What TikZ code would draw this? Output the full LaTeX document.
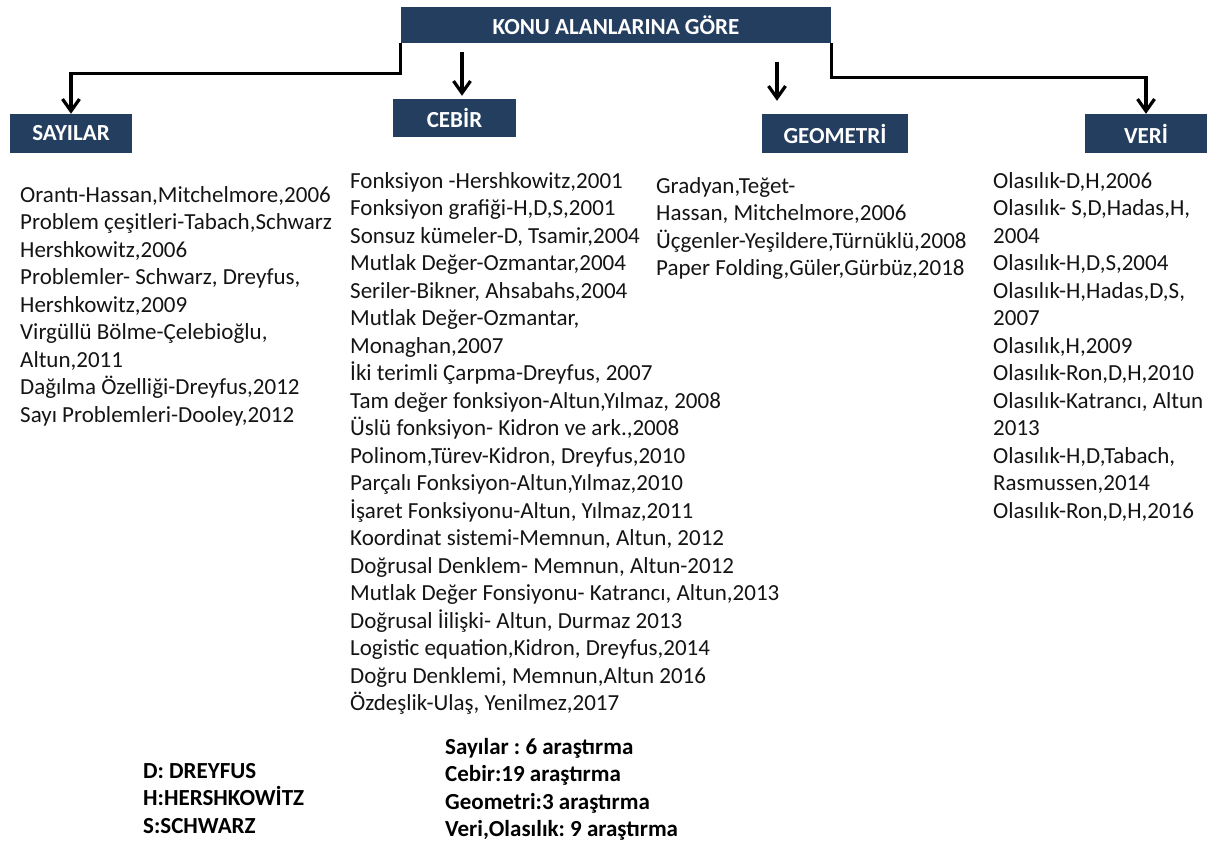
\documentclass[tikz,border=0pt]{standalone}
\usepackage{fontspec}
\setmainfont{Carlito}
\usetikzlibrary{arrows.meta}
\definecolor{navy}{RGB}{36,62,95}
\newcommand{\rl}[1]{\hbox{#1}}
\newcommand{\colblock}[1]{\vtop{\frenchspacing\baselineskip=27.5pt\lineskiplimit=-60pt #1}}
\begin{document}
\frenchspacing
\begin{tikzpicture}[x=1pt,y=-1pt,
  catbox/.style={fill=navy, text=white, font=\bfseries\fontsize{23}{27.5}\selectfont, inner sep=0pt},
  body/.style={anchor=base west, inner sep=0pt, text=black!92, font=\fontsize{23}{27.5}\selectfont},
  boldbody/.style={anchor=base west, inner sep=0pt, text=black, font=\bfseries\fontsize{23}{27.5}\selectfont},
  conn/.style={line width=3.2pt, -{Straight Barb[length=12pt,width=17pt]}}]
\useasboundingbox (0,0) rectangle (1226,843);

% header boxes
\node[catbox, minimum width=430, minimum height=36] (konu) at (616,25) {KONU ALANLARINA GÖRE};
\node[catbox, minimum width=122, minimum height=39] (sayilar) at (71,133.5) {SAYILAR};
\node[catbox, minimum width=123, minimum height=38] (cebir) at (454.5,118) {CEBİR};
\node[catbox, minimum width=146, minimum height=39] (geometri) at (835,133.5) {GEOMETRİ};
\node[catbox, minimum width=122, minimum height=39] (veri) at (1146,133.5) {VERİ};

% connectors
\draw[conn] (konu.south west) -- ++(0,30) -| (sayilar.north);
\draw[conn] (konu.south east) -- ++(0,34) -| (veri.north);
\coordinate (cA) at (462,52);
\draw[conn, shorten >=3pt] (cA) -- (cA |- cebir.north);
\coordinate (gA) at (777,62);
\draw[conn, shorten >=13pt] (gA) -- (gA |- geometri.north);

% lists
\node[body] (sayilist) at (20,202) {\colblock{%
\rl{Orantı-Hassan,Mitchelmore,2006}
\rl{Problem çeşitleri-Tabach,Schwarz}
\rl{Hershkowitz,2006}
\rl{Problemler- Schwarz, Dreyfus,}
\rl{Hershkowitz,2009}
\rl{Virgüllü Bölme-Çelebioğlu,}
\rl{Altun,2011}
\rl{Dağılma Özelliği-Dreyfus,2012}
\rl{Sayı Problemleri-Dooley,2012}}};

\node[body] (cebirlist) at (350,188) {\colblock{%
\rl{Fonksiyon -Hershkowitz,2001}
\rl{Fonksiyon grafiği-H,D,S,2001}
\rl{Sonsuz kümeler-D, Tsamir,2004}
\rl{Mutlak Değer-Ozmantar,2004}
\rl{Seriler-Bikner, Ahsabahs,2004}
\rl{Mutlak Değer-Ozmantar,}
\rl{Monaghan,2007}
\rl{İki terimli Çarpma-Dreyfus, 2007}
\rl{Tam değer fonksiyon-Altun,Yılmaz, 2008}
\rl{Üslü fonksiyon- Kidron ve ark.,2008}
\rl{Polinom,Türev-Kidron, Dreyfus,2010}
\rl{Parçalı Fonksiyon-Altun,Yılmaz,2010}
\rl{İşaret Fonksiyonu-Altun, Yılmaz,2011}
\rl{Koordinat sistemi-Memnun, Altun, 2012}
\rl{Doğrusal Denklem- Memnun, Altun-2012}
\rl{Mutlak Değer Fonsiyonu- Katrancı, Altun,2013}
\rl{Doğrusal İilişki- Altun, Durmaz 2013}
\rl{Logistic equation,Kidron, Dreyfus,2014}
\rl{Doğru Denklemi, Memnun,Altun 2016}
\rl{Özdeşlik-Ulaş, Yenilmez,2017}}};

\node[body] (geolist) at (656,193) {\colblock{%
\rl{Gradyan,Teğet-}
\rl{Hassan, Mitchelmore,2006}
\rl{Üçgenler-Yeşildere,Türnüklü,2008}
\rl{Paper Folding,Güler,Gürbüz,2018}}};

\node[body] (verilist) at (993,188) {\colblock{%
\rl{Olasılık-D,H,2006}
\rl{Olasılık- S,D,Hadas,H,}
\rl{2004}
\rl{Olasılık-H,D,S,2004}
\rl{Olasılık-H,Hadas,D,S,}
\rl{2007}
\rl{Olasılık,H,2009}
\rl{Olasılık-Ron,D,H,2010}
\rl{Olasılık-Katrancı, Altun}
\rl{2013}
\rl{Olasılık-H,D,Tabach,}
\rl{Rasmussen,2014}
\rl{Olasılık-Ron,D,H,2016}}};

% legend and summary
\node[boldbody] (legend) at (143,778) {\colblock{%
\rl{D: DREYFUS}
\rl{H:HERSHKOWİTZ}
\rl{S:SCHWARZ}}};

\node[boldbody] (summary) at (445,754) {\colblock{%
\rl{Sayılar : 6 araştırma}
\rl{Cebir:19 araştırma}
\rl{Geometri:3 araştırma}
\rl{Veri,Olasılık: 9 araştırma}}};
\end{tikzpicture}
\end{document}
